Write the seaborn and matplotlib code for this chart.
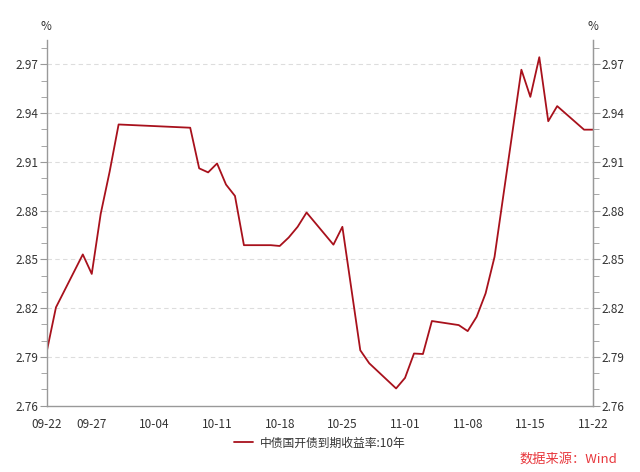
import matplotlib
matplotlib.use("Agg")
import matplotlib.pyplot as plt
import matplotlib.dates as mdates
from matplotlib.ticker import MultipleLocator, FixedLocator
import pandas as pd
import seaborn as sns

# data (CDB 10y yield, %)
dates = ["2022-09-22", "2022-09-23", "2022-09-26", "2022-09-27", "2022-09-28",
         "2022-09-29", "2022-09-30", "2022-10-08", "2022-10-09", "2022-10-10",
         "2022-10-11", "2022-10-12", "2022-10-13", "2022-10-14", "2022-10-17",
         "2022-10-18", "2022-10-19", "2022-10-20", "2022-10-21", "2022-10-24",
         "2022-10-25", "2022-10-26", "2022-10-27", "2022-10-28", "2022-10-31",
         "2022-11-01", "2022-11-02", "2022-11-03", "2022-11-04", "2022-11-07",
         "2022-11-08", "2022-11-09", "2022-11-10", "2022-11-11", "2022-11-14",
         "2022-11-15", "2022-11-16", "2022-11-17", "2022-11-18", "2022-11-21",
         "2022-11-22"]
values = [2.794, 2.8204, 2.853, 2.841, 2.878,
          2.904, 2.933, 2.931, 2.906, 2.9035,
          2.909, 2.896, 2.889, 2.8587, 2.8587,
          2.8582, 2.8634, 2.870, 2.8788, 2.859,
          2.870, 2.832, 2.794, 2.786, 2.7705,
          2.777, 2.792, 2.7917, 2.812, 2.8095,
          2.8058, 2.8146, 2.829, 2.8515, 2.9667,
          2.950, 2.9744, 2.935, 2.9443, 2.9298,
          2.9298]
tick_dates = ["2022-09-22", "2022-09-27", "2022-10-04", "2022-10-11", "2022-10-18",
              "2022-10-25", "2022-11-01", "2022-11-08", "2022-11-15", "2022-11-22"]
y_ticks = [2.76, 2.79, 2.82, 2.85, 2.88, 2.91, 2.94, 2.97]
series_name = "中债国开债到期收益率:10年"

df = pd.DataFrame({"date": pd.to_datetime(dates), "value": values})

sns.set_style("white")
plt.rcParams['font.family'] = ['Noto Sans CJK SC', 'DejaVu Sans']

line_color = "#A8111C"
axis_color = "#999999"
text_color = "#333333"

fig = plt.figure(figsize=(6.4, 4.72), dpi=100)
ax = fig.add_axes([47 / 640, 1 - 405.5 / 472, (593 - 47) / 640, (405.5 - 40) / 472])

sns.lineplot(data=df, x="date", y="value", ax=ax, color=line_color,
             linewidth=1.3, label=series_name)

ax.set_xlim(pd.Timestamp("2022-09-22"), pd.Timestamp("2022-11-22"))
ax.set_ylim(2.76, 2.985)
ax.set_xlabel("")
ax.set_ylabel("")

ax.xaxis.set_major_locator(FixedLocator(mdates.date2num(pd.to_datetime(tick_dates))))
ax.xaxis.set_major_formatter(mdates.DateFormatter("%m-%d"))
ax.xaxis.set_minor_locator(mdates.DayLocator())
ax.yaxis.set_major_locator(FixedLocator(y_ticks))
ax.yaxis.set_minor_locator(MultipleLocator(0.01))
ax.yaxis.set_major_formatter(plt.FuncFormatter(lambda v, p: f"{v:.2f}"))

for y in y_ticks[1:]:
    ax.axhline(y, color="#DDDDDD", linewidth=0.8, linestyle=(0, (4, 3)), zorder=0)

for side in ["top"]:
    ax.spines[side].set_visible(False)
for side in ["left", "right", "bottom"]:
    ax.spines[side].set_color(axis_color)
    ax.spines[side].set_linewidth(1.0)

ax.tick_params(axis="both", which="major", length=5, color=axis_color,
               labelsize=8.5, labelcolor=text_color, direction="out", pad=1)
ax.tick_params(axis="both", which="minor", length=4, color=axis_color, direction="out")
ax.tick_params(axis="x", which="major", pad=4)

ax2 = ax.twinx()
ax2.set_ylim(ax.get_ylim())
ax2.yaxis.set_major_locator(FixedLocator(y_ticks))
ax2.yaxis.set_minor_locator(MultipleLocator(0.01))
ax2.yaxis.set_major_formatter(plt.FuncFormatter(lambda v, p: f"{v:.2f}"))
for side in ["top", "left", "bottom"]:
    ax2.spines[side].set_visible(False)
ax2.spines["right"].set_color(axis_color)
ax2.tick_params(axis="y", which="major", length=5, color=axis_color,
                labelsize=8.5, labelcolor=text_color, pad=1)
ax2.tick_params(axis="y", which="minor", length=4, color=axis_color)

fig.text(46 / 640, 1 - 26 / 472, "%", ha="center", va="center", fontsize=8.5, color=text_color)
fig.text(593 / 640, 1 - 26 / 472, "%", ha="center", va="center", fontsize=8.5, color=text_color)

ax.get_legend().remove()
handles, labels = ax.get_legend_handles_labels()
fig.legend(handles, labels, loc="center", bbox_to_anchor=(0.5, 1 - 443 / 472),
           frameon=False, fontsize=8.5, handlelength=1.6, handletextpad=0.6,
           labelcolor=text_color)

fig.text(617 / 640, 1 - 459 / 472, "数据来源：Wind", ha="right", va="center",
         fontsize=9.5, color="#E8383D")

fig.savefig("out.png", dpi=100)
